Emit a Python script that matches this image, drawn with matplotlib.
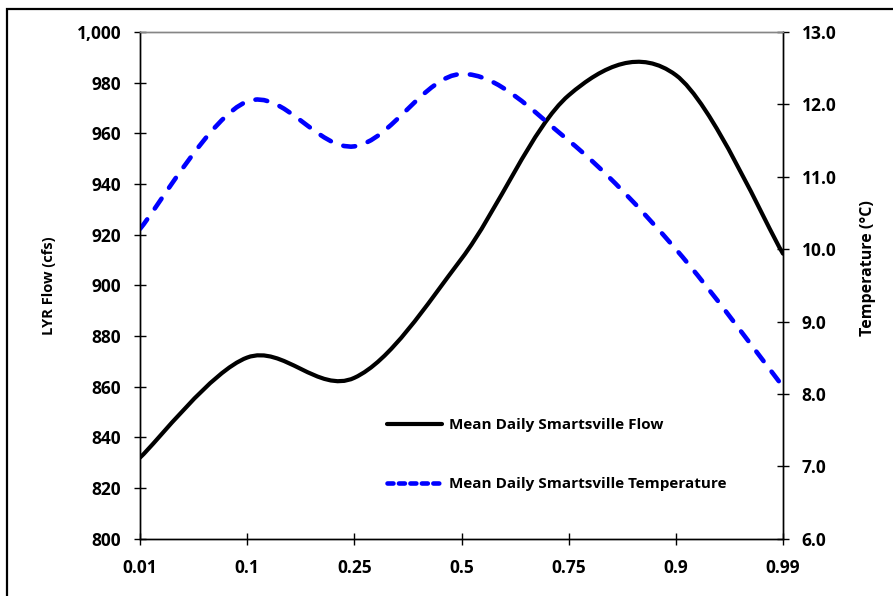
import numpy as np
import matplotlib
matplotlib.use('Agg')
import matplotlib.pyplot as plt
from matplotlib.path import Path
from matplotlib.patches import PathPatch, Rectangle
from matplotlib.lines import Line2D

plt.rcParams['font.family'] = ['Open Sans', 'DejaVu Sans']
plt.rcParams['font.weight'] = 'bold'

# exceedance categories and values
categories = ['0.01', '0.1', '0.25', '0.5', '0.75', '0.9', '0.99']
flow_cfs = [832, 871.5, 863.5, 910.5, 975, 983, 912.5]
temp_c = [10.28, 12.04, 11.42, 12.42, 11.5, 10.0, 8.1]

flow_ticks = [800, 820, 840, 860, 880, 900, 920, 940, 960, 980, 1000]
temp_ticks = [6, 7, 8, 9, 10, 11, 12, 13]


# Excel-like smoothed line: cubic bezier through each point
def smooth_path(xs, ys):
    n = len(xs)
    verts = [(xs[0], ys[0])]
    codes = [Path.MOVETO]
    for i in range(n - 1):
        a = i - 1 if i > 0 else i
        b = i + 2 if i + 2 < n else i + 1
        c1 = (xs[i] + (xs[i + 1] - xs[a]) / 6.0, ys[i] + (ys[i + 1] - ys[a]) / 6.0)
        c2 = (xs[i + 1] - (xs[b] - xs[i]) / 6.0, ys[i + 1] - (ys[b] - ys[i]) / 6.0)
        verts += [c1, c2, (xs[i + 1], ys[i + 1])]
        codes += [Path.CURVE4] * 3
    return Path(verts, codes)


fig = plt.figure(figsize=(8.93, 5.96), dpi=100)
ax = fig.add_axes([140 / 893, 1 - 538.7 / 596, 643 / 893, 506.7 / 596])
ax2 = ax.twinx()

x = np.arange(len(categories))

p1 = PathPatch(smooth_path(x, flow_cfs), fill=False, edgecolor='black',
               lw=3.0, capstyle='round', joinstyle='round')
ax.add_patch(p1)

p2 = PathPatch(smooth_path(x, temp_c), fill=False, edgecolor='#0000FF',
               lw=3.3, capstyle='round', joinstyle='round', linestyle=(0, (2.6, 2.9)))
ax2.add_patch(p2)

ax.set_xlim(0, len(categories) - 1)
ax.set_ylim(800, 1000)
ax2.set_ylim(6, 13)
ax.set_xticks(x)
ax.set_xticklabels(categories, fontweight='bold')
ax.set_yticks(flow_ticks)
ax.set_yticklabels(['{:,}'.format(v) for v in flow_ticks], fontweight='bold')
ax2.set_yticks(temp_ticks)
ax2.set_yticklabels(['{:.1f}'.format(v) for v in temp_ticks], fontweight='bold')

for a in (ax, ax2):
    a.tick_params(direction='inout', length=9, width=1, labelsize=12.5, pad=9)
    for s in a.spines.values():
        s.set_linewidth(1)
    a.spines['top'].set_color('#868686')
    a.patch.set_alpha(0)
ax.tick_params(axis='x', pad=10)

ax.set_ylabel('LYR Flow (cfs)', fontsize=10.5, fontweight='bold')
ax2.set_ylabel('Temperature (°C)', fontsize=11.5, fontweight='bold')
ax.yaxis.set_label_coords(-0.131, 0.5)
ax2.yaxis.set_label_coords(1.119, 0.535)

handles = [Line2D([], [], color='black', lw=3.0, solid_capstyle='round'),
           Line2D([], [], color='#0000FF', lw=3.3, dash_capstyle='round',
                  linestyle=(0, (1.3, 1.2)))]
ax.legend(handles, ['Mean Daily Smartsville Flow', 'Mean Daily Smartsville Temperature'],
          loc='center left', bbox_to_anchor=(0.384, 0.166), frameon=False,
          prop={'size': 11, 'weight': 'bold'}, handlelength=3.6, handletextpad=0.45,
          labelspacing=2.95, borderpad=0, borderaxespad=0)

# outer chart border
fig.patches.append(Rectangle((7 / 893, -0.01), 1.0, 1 - 9 / 596 + 0.01,
                             transform=fig.transFigure, fill=False,
                             edgecolor='black', lw=1.6))

fig.savefig('out.png', dpi=100)
